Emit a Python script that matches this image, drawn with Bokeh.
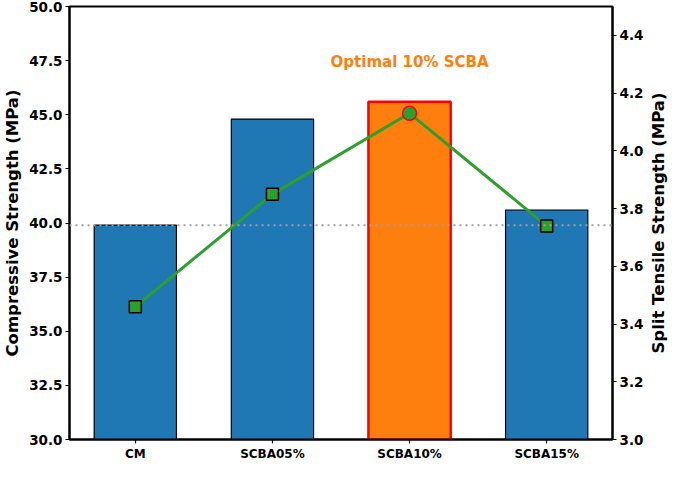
import math
from bokeh.plotting import figure
from bokeh.layouts import row
from bokeh.models import Range1d, LinearAxis, FixedTicker, NumeralTickFormatter, Span, ColumnDataSource
from bokeh.embed import file_html
from bokeh.resources import INLINE
from bokeh.core.properties import value

categories = ["CM", "SCBA05%", "SCBA10%", "SCBA15%"]
compressive = [39.9, 44.8, 45.6, 40.6]
split_tensile = [3.46, 3.85, 4.13, 3.74]
left_ticks = [30.0, 32.5, 35.0, 37.5, 40.0, 42.5, 45.0, 47.5, 50.0]
right_ticks = [3.0, 3.2, 3.4, 3.6, 3.8, 4.0, 4.2, 4.4]
optimal_index = 2

FONT = "DejaVu Sans"
xs = list(range(len(categories)))
TOP, BOTTOM = 6, 24

p = figure(width=646, height=463, output_backend="svg", toolbar_location=None,
           x_range=Range1d(-0.48, 3.48), y_range=Range1d(30, 50),
           min_border_left=0, min_border_right=34, min_border_top=TOP, min_border_bottom=BOTTOM)
p.extra_y_ranges = {"right": Range1d(3.0, 4.5)}
p.xgrid.visible = False
p.ygrid.visible = False
p.outline_line_color = "black"
p.outline_line_width = 2
p.background_fill_color = "white"
p.border_fill_color = "white"

colors = ["#1f77b4" if i != optimal_index else "#ff7f0e" for i in xs]
edges = ["black" if i != optimal_index else "red" for i in xs]
widths = [1.2 if i != optimal_index else 2.5 for i in xs]
src = ColumnDataSource(dict(x=xs, top=compressive, color=colors, edge=edges, lw=widths))
p.vbar(x="x", top="top", bottom=30, width=0.6, fill_color="color", line_color="edge",
       line_width="lw", source=src)

ref = Span(location=compressive[0], dimension="width", line_color="#a0a0a0",
           line_dash="2 4", line_width=2)
p.add_layout(ref)

p.line(xs, split_tensile, y_range_name="right", line_color="#2ca02c", line_width=3)
sq_x = [x for i, x in enumerate(xs) if i != optimal_index]
sq_y = [v for i, v in enumerate(split_tensile) if i != optimal_index]
p.scatter(sq_x, sq_y, y_range_name="right", marker="square", size=12,
          fill_color="#2ca02c", line_color="black", line_width=1.5)
p.scatter([xs[optimal_index]], [split_tensile[optimal_index]], y_range_name="right",
          marker="circle", size=14, fill_color="#2ca02c", line_color="red", line_width=1.5)

p.text([xs[optimal_index]], [compressive[optimal_index] + 1.4], text=["Optimal 10% SCBA"],
       text_font=value(FONT), text_font_style="bold", text_font_size="15px",
       text_color="#ff7f0e", text_align="center", text_baseline="bottom")

# axes styling
p.xaxis.ticker = FixedTicker(ticks=xs)
p.xaxis.major_label_overrides = {i: c for i, c in enumerate(categories)}
p.yaxis.ticker = FixedTicker(ticks=left_ticks)
p.yaxis.formatter = NumeralTickFormatter(format="0.0")
p.yaxis.axis_label = "Compressive Strength (MPa)"

right = LinearAxis(y_range_name="right")
right.ticker = FixedTicker(ticks=right_ticks)
right.formatter = NumeralTickFormatter(format="0.0")
p.add_layout(right, "right")

for ax in [p.xaxis[0], p.yaxis[0], right]:
    ax.axis_line_color = "black"
    ax.axis_line_width = 2
    ax.major_tick_line_color = "black"
    ax.major_tick_line_width = 1.2
    ax.major_tick_out = 4
    ax.major_tick_in = 0
    ax.minor_tick_line_color = None
    ax.major_label_text_font = FONT
    ax.major_label_text_font_style = "bold"
    ax.major_label_text_font_size = "13.5px"
    ax.major_label_text_color = "black"
    ax.axis_label_text_font = FONT
    ax.axis_label_text_font_style = "bold"
    ax.axis_label_text_font_size = "16.5px"
    ax.axis_label_text_color = "black"
    ax.axis_label_standoff = 4
    ax.major_label_standoff = 3

xa = p.xaxis[0]
xa.major_label_text_font_size = "12px"
xa.axis_label = None
xa.axis_label_standoff = 0

# right-hand axis title (reads bottom-to-top), in a narrow companion figure
p2 = figure(width=23, height=463, output_backend="svg", toolbar_location=None,
            x_range=Range1d(0, 1), y_range=Range1d(0, 1),
            min_border_left=0, min_border_right=0, min_border_top=TOP, min_border_bottom=BOTTOM)
p2.axis.visible = False
p2.grid.visible = False
p2.outline_line_color = None
p2.background_fill_color = "white"
p2.border_fill_color = "white"
p2.text([0.5], [0.5], text=["Split Tensile Strength (MPa)"], angle=math.pi / 2,
        text_font=value(FONT), text_font_style="bold", text_font_size="16.5px",
        text_color="black", text_align="center", text_baseline="middle")

layout = row(p, p2)
open("out.html", "w").write(file_html(layout, INLINE))
